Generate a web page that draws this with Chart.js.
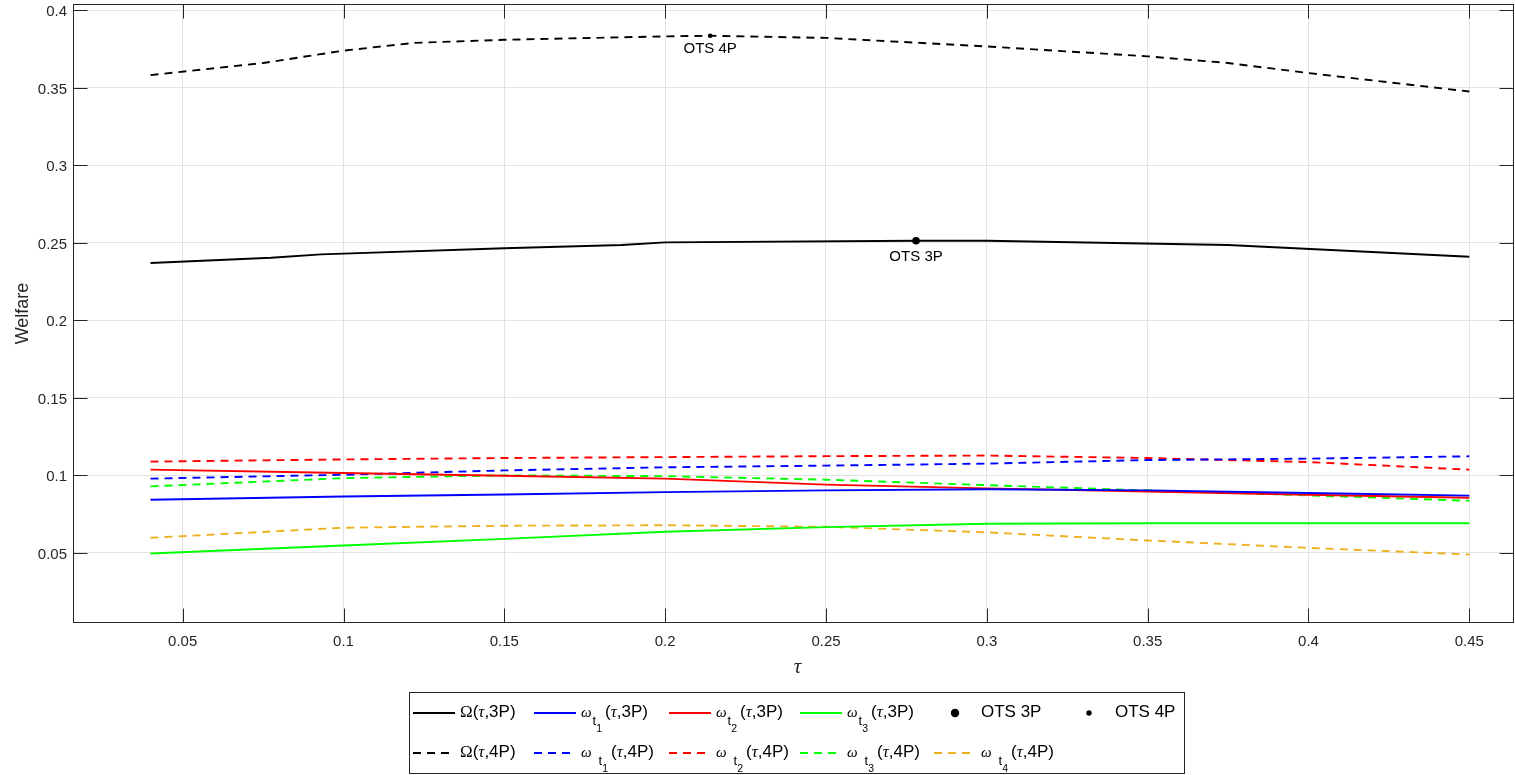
<!DOCTYPE html>
<html>
<head>
<meta charset="utf-8">
<script src="https://cdn.jsdelivr.net/npm/chart.js@4.4.0/dist/chart.umd.min.js"></script>
<style>
  html, body { margin: 0; padding: 0; background: #fff; }
  #wrap { width: 1515px; height: 775px; }
</style>
</head>
<body>
<div id="wrap"><canvas id="welfareChart" width="1515" height="775"></canvas></div>
<script>
// tau grid shared by the omega_t curves
const tauGrid = [0.04, 0.1, 0.15, 0.2, 0.25, 0.3, 0.35, 0.4, 0.45];

// 3 platform case
const w1_3P = [0.0841, 0.0862, 0.0875, 0.0890, 0.0901, 0.0908, 0.0901, 0.0884, 0.0867];
const w2_3P = [0.1035, 0.1013, 0.0996, 0.0977, 0.0938, 0.0914, 0.0894, 0.0873, 0.0854];
const w3_3P = [0.0494, 0.0545, 0.0588, 0.0634, 0.0664, 0.0686, 0.0689, 0.0689, 0.0689];

// 4 platform case
const w1_4P = [0.0977, 0.1002, 0.1030, 0.1050, 0.1061, 0.1074, 0.1097, 0.1106, 0.1121];
const w2_4P = [0.1087, 0.1101, 0.1110, 0.1116, 0.1122, 0.1126, 0.1110, 0.1084, 0.1035];
const w3_4P = [0.0927, 0.0980, 0.0998, 0.0993, 0.0970, 0.0935, 0.0901, 0.0869, 0.0834];
const w4_4P = [0.0595, 0.0660, 0.0673, 0.0676, 0.0666, 0.0630, 0.0578, 0.0530, 0.0487];

// total welfare curves
const tauOmega3P = [0.04, 0.0775, 0.093, 0.15, 0.1865, 0.2, 0.278, 0.3, 0.375, 0.45];
const omega3P = [0.2369, 0.2403, 0.2425, 0.2464, 0.2485, 0.2502, 0.2513, 0.2513, 0.2485, 0.2409];
const tauOmega4P = [0.04, 0.075, 0.1, 0.122, 0.15, 0.2, 0.214, 0.25, 0.3, 0.35, 0.375, 0.4, 0.45];
const omega4P = [0.3582, 0.3660, 0.3740, 0.3790, 0.3810, 0.3832, 0.3836, 0.3822, 0.3767, 0.3703, 0.3660, 0.3595, 0.3476];

// optimal tax points
const ots3P = [0.278, 0.2513];
const ots4P = [0.214, 0.3836];

const xTicks = [0.05, 0.1, 0.15, 0.2, 0.25, 0.3, 0.35, 0.4, 0.45];
const yTicks = [0.05, 0.1, 0.15, 0.2, 0.25, 0.3, 0.35, 0.4];

const SANS = '"Liberation Sans", Arial, sans-serif';
const SERIF = '"Liberation Serif", "DejaVu Serif", serif';
const DASH = [8, 6];

const pts = (xs, ys) => xs.map((x, i) => ({ x: x, y: ys[i] }));

function line(label, xs, ys, color, dashed) {
    return {
        label: label,
        data: pts(xs, ys),
        borderColor: color,
        backgroundColor: color,
        borderWidth: 1.9,
        borderDash: dashed ? DASH : [],
        pointRadius: 0,
        tension: 0,
        fill: false
    };
}

function dot(label, p, r) {
    return {
        label: label,
        data: [{ x: p[0], y: p[1] }],
        showLine: false,
        pointRadius: r,
        pointBorderWidth: 0,
        pointBackgroundColor: "#000",
        borderColor: "#000",
        backgroundColor: "#000",
        order: -1
    };
}

// legend order = dataset order (6 columns, row by row)
const datasets = [
    line("Ω(τ,3P)", tauOmega3P, omega3P, "#000000", false),
    line("ω_{t_1}(τ,3P)", tauGrid, w1_3P, "#0000ff", false),
    line("ω_{t_2}(τ,3P)", tauGrid, w2_3P, "#ff0000", false),
    line("ω_{t_3}(τ,3P)", tauGrid, w3_3P, "#00ff00", false),
    dot("OTS 3P", ots3P, 3.8),
    dot("OTS 4P", ots4P, 2.3),
    line("Ω(τ,4P)", tauOmega4P, omega4P, "#000000", true),
    line("ω_{t_1}(τ,4P)", tauGrid, w1_4P, "#0000ff", true),
    line("ω_{t_2}(τ,4P)", tauGrid, w2_4P, "#ff0000", true),
    line("ω_{t_3}(τ,4P)", tauGrid, w3_4P, "#00ff00", true),
    line("ω_{t_4}(τ,4P)", tauGrid, w4_4P, "#edb120", true)
];

function drawLabel(ctx, label, x, base, wide) {
    let cx = x;
    const put = (t, font) => {
        ctx.font = font;
        ctx.fillText(t, cx, base);
        cx += ctx.measureText(t).width;
    };
    let rest;
    const m = label.match(/^ω_\{t_(\d)\}(.*)$/);
    if (m) {
        put("ω", "italic 15px " + SERIF);
        if (wide) cx += 6;
        const tx = cx + 1;
        ctx.font = "13px " + SANS;
        ctx.fillText("t", tx, base + 8);
        const tw = ctx.measureText("t").width;
        ctx.font = "10.5px " + SANS;
        ctx.fillText(m[1], tx + tw, base + 15);
        cx = tx + tw + ctx.measureText(m[1]).width + 3;
        rest = m[2];
    } else if (label[0] === "Ω") {
        put("Ω", "17px " + SERIF);
        rest = label.slice(1);
    } else {
        put(label, "17px " + SANS);
        return;
    }
    rest.split(/(τ)/).forEach(part => {
        if (!part) return;
        if (part === "τ") put("τ", "italic 17px " + SERIF);
        else put(part, "17px " + SANS);
    });
}

const frameAndLegend = {
    id: "frameAndLegend",
    afterDraw(chart) {
        const { ctx, chartArea: a, scales } = chart;
        const L = Math.round(a.left) + 0.5, R = Math.round(a.right) - 0.5;
        const T = Math.round(a.top) + 0.5, B = Math.round(a.bottom) - 0.5;
        ctx.save();

        // axes box and inward ticks
        ctx.strokeStyle = "#262626";
        ctx.lineWidth = 1;
        ctx.strokeRect(L, T, R - L, B - T);
        ctx.beginPath();
        xTicks.forEach(v => {
            const px = Math.round(scales.x.getPixelForValue(v)) + 0.5;
            ctx.moveTo(px, B); ctx.lineTo(px, B - 14);
            ctx.moveTo(px, T); ctx.lineTo(px, T + 14);
        });
        yTicks.forEach(v => {
            const py = Math.round(scales.y.getPixelForValue(v)) + 0.5;
            ctx.moveTo(L, py); ctx.lineTo(L + 14, py);
            ctx.moveTo(R, py); ctx.lineTo(R - 14, py);
        });
        ctx.stroke();

        // axis titles
        ctx.fillStyle = "#262626";
        ctx.textAlign = "center";
        ctx.textBaseline = "middle";
        ctx.save();
        ctx.translate(23, (a.top + a.bottom) / 2);
        ctx.rotate(-Math.PI / 2);
        ctx.font = "18px " + SANS;
        ctx.fillText("Welfare", 0, 0);
        ctx.restore();
        ctx.font = "italic 21px " + SERIF;
        ctx.fillText("τ", (a.left + a.right) / 2 + 4, 667);

        // OTS annotations
        ctx.fillStyle = "#000";
        ctx.font = "15px " + SANS;
        [[4, 16], [5, 13]].forEach(([i, dy]) => {
            const el = chart.getDatasetMeta(i).data[0];
            ctx.fillText(chart.data.datasets[i].label, el.x, el.y + dy);
        });

        // legend
        ctx.fillStyle = "#fff";
        ctx.fillRect(409.5, 692.5, 775, 81);
        ctx.strokeStyle = "#262626";
        ctx.strokeRect(409.5, 692.5, 775, 81);
        const cols = [413, 534, 669, 800, 934, 1068];
        const rows = [713, 753];
        ctx.textAlign = "left";
        ctx.textBaseline = "alphabetic";
        chart.data.datasets.forEach((ds, i) => {
            const x0 = cols[i % 6], y0 = rows[Math.floor(i / 6)];
            if (ds.showLine === false) {
                ctx.fillStyle = "#000";
                ctx.beginPath();
                ctx.arc(x0 + 21, y0, ds.pointRadius + 0.4, 0, Math.PI * 2);
                ctx.fill();
            } else {
                ctx.strokeStyle = ds.borderColor;
                ctx.lineWidth = ds.borderWidth;
                ctx.setLineDash(ds.borderDash);
                ctx.beginPath();
                ctx.moveTo(x0, y0); ctx.lineTo(x0 + 42, y0);
                ctx.stroke();
                ctx.setLineDash([]);
            }
            ctx.fillStyle = "#000";
            drawLabel(ctx, ds.label, x0 + 47, y0 + 4, y0 === rows[1]);
        });
        ctx.restore();
    }
};

const tickFont = { family: SANS, size: 15 };

const welfareChart = new Chart(document.getElementById("welfareChart").getContext("2d"), {
    type: "line",
    data: { datasets: datasets },
    options: {
        responsive: false,
        animation: false,
        layout: { autoPadding: false, padding: { top: 4, right: 1, left: 0, bottom: 0 } },
        plugins: { legend: { display: false }, tooltip: { enabled: false } },
        scales: {
            x: {
                type: "linear",
                min: 0.0159,
                max: 0.4639,
                afterBuildTicks: s => { s.ticks = xTicks.map(v => ({ value: v })); },
                afterFit: s => { s.height = 152; s.paddingLeft = 0; s.paddingRight = 0; },
                grid: { color: "#e3e3e3", drawTicks: false },
                border: { display: false },
                ticks: { font: tickFont, color: "#262626", padding: 10, maxRotation: 0, autoSkip: false, callback: v => String(v) }
            },
            y: {
                type: "linear",
                min: 0.0045,
                max: 0.4041,
                afterBuildTicks: s => { s.ticks = yTicks.map(v => ({ value: v })); },
                afterFit: s => { s.width = 73; s.paddingTop = 0; s.paddingBottom = 0; },
                grid: { color: "#e3e3e3", drawTicks: false },
                border: { display: false },
                ticks: { font: tickFont, color: "#262626", padding: 6, labelOffset: 2, autoSkip: false, callback: v => String(v) }
            }
        }
    },
    plugins: [frameAndLegend]
});
</script>
</body>
</html>
